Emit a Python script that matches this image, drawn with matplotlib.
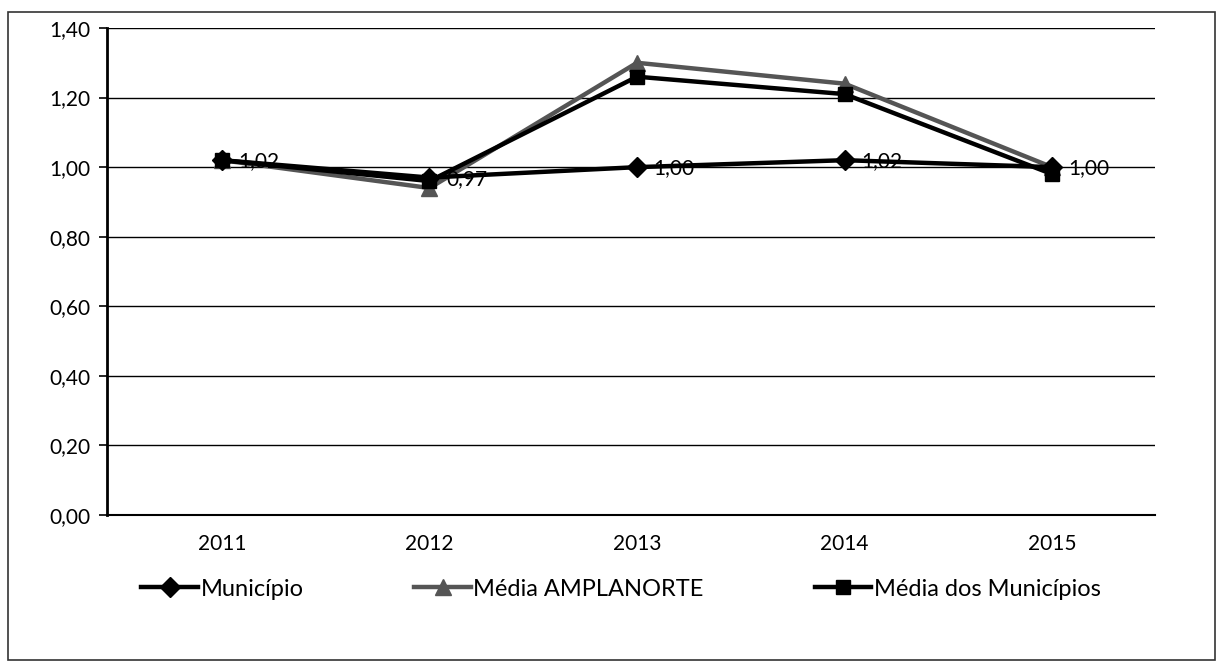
import matplotlib
matplotlib.use("Agg")
import matplotlib.pyplot as plt
from matplotlib.patches import Rectangle

plt.rcParams['font.family'] = ['Lato', 'DejaVu Sans']

anos = ["2011", "2012", "2013", "2014", "2015"]
municipio = [1.02, 0.97, 1.00, 1.02, 1.00]
media_amplanorte = [1.02, 0.94, 1.30, 1.24, 1.00]
media_municipios = [1.02, 0.96, 1.26, 1.21, 0.98]
rotulos_municipio = ["1,02", "0,97", "1,00", "1,02", "1,00"]
yticks = [0.0, 0.2, 0.4, 0.6, 0.8, 1.0, 1.2, 1.4]

fig = plt.figure(figsize=(12.25, 6.65), dpi=100)
# moldura do grafico
fig.patches.append(Rectangle((8 / 1225, 5 / 665), 1207 / 1225, 648 / 665,
                             transform=fig.transFigure, fill=False,
                             edgecolor='#333333', linewidth=1.2))

ax = fig.add_axes([107 / 1225, 1 - 515 / 665, 1048 / 1225, 487 / 665])
x = list(range(len(anos)))

ax.plot(x, municipio, color='black', lw=3.2, marker='D', ms=10,
        label='Município', zorder=4)
ax.plot(x, media_amplanorte, color='#555555', lw=3.2, marker='^', ms=12,
        label='Média AMPLANORTE', zorder=3)
ax.plot(x, media_municipios, color='black', lw=3.2, marker='s', ms=10,
        label='Média dos Municípios', zorder=3)

for xi, yi, txt in zip(x, municipio, rotulos_municipio):
    ax.annotate(txt, (xi, yi), xytext=(12, -1), textcoords='offset points',
                va='center', ha='left', fontsize=15, color='black', zorder=5)

ax.set_xlim(-0.554, 4.496)
ax.set_ylim(0, 1.4)
ax.set_yticks(yticks)
ax.set_yticklabels([f"{v:.2f}".replace('.', ',') for v in yticks])
ax.set_xticks(x)
ax.set_xticklabels(anos)
ax.tick_params(axis='y', labelsize=15, length=6, width=1.2, pad=6)
ax.tick_params(axis='x', labelsize=15, length=0, pad=14)
ax.grid(axis='y', color='black', lw=1.0)
ax.set_axisbelow(True)
for s in ['top', 'right']:
    ax.spines[s].set_visible(False)
ax.spines['left'].set_linewidth(2)
ax.spines['bottom'].set_linewidth(1.5)

fig.legend(loc='center', bbox_to_anchor=(621 / 1225, 1 - 589 / 665), ncol=3,
           frameon=False, fontsize=17, handlelength=2.4, handletextpad=0.1,
           columnspacing=4.7)

fig.savefig("out.png", dpi=100)
